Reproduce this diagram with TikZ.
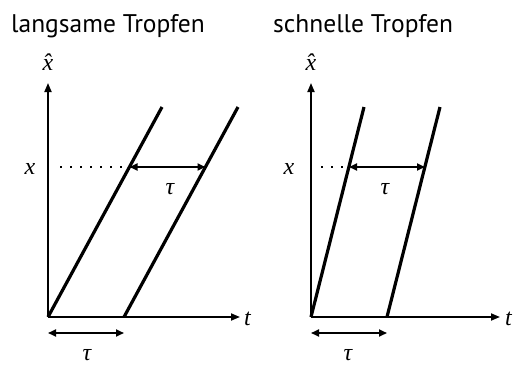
\documentclass[tikz,border=0pt]{standalone}
\usepackage{fontspec}
\setmainfont{PT Sans}
\usetikzlibrary{arrows.meta}
\newfontfamily\mathlike{Liberation Serif}
\tikzset{
  axis/.style={line width=1.8pt,-{Triangle[length=9pt,width=7pt]}},
  drop/.style={line width=3.2pt},
  dim/.style={line width=1.8pt,{Triangle[length=8pt,width=7pt]}-{Triangle[length=8pt,width=7pt]}},
  guide/.style={line width=1.6pt,dash pattern=on 1.6pt off 8.4pt},
  title/.style={font=\fontsize{25.5}{28}\selectfont,anchor=base west,inner sep=0pt},
  lab/.style={font=\mathlike\itshape\fontsize{24}{26}\selectfont,inner sep=0pt}
}
\begin{document}
\begin{tikzpicture}[x=1pt,y=-1pt]
\useasboundingbox (0,0) rectangle (515,365);
% ---------- left panel ----------
\node[title] (T1) at (11,32) {langsame Tropfen};
\coordinate (O1) at (48,317);
\coordinate (Y1) at (48,83);
\coordinate (X1) at (240,317);
\draw[axis] (O1) -- (Y1);
\draw[axis] (O1) -- (X1);
\node[lab,anchor=base] (xh1) at (48,70) {\^x};
\node[lab,anchor=base west] (t1) at (244,325) {t};
\coordinate (A1t) at (162,107);
\coordinate (B1b) at (124,317);
\coordinate (B1t) at (238,107);
\draw[drop] (O1) -- (A1t);
\draw[drop] (B1b) -- (B1t);
\node[lab,anchor=base] (x1) at (30,174) {x};
\coordinate (g1) at (60,167);
\coordinate (P1) at (129.5,167);
\coordinate (Q1) at (205.5,167);
\draw[guide] (g1) -- (P1);
\draw[dim] (P1) -- (Q1);
\node[lab,anchor=base] (tau1) at (170,194) {τ};
\coordinate (D1a) at (48,333);
\coordinate (D1b) at (124,333);
\draw[dim] (D1a) -- (D1b);
\node[lab,anchor=base] (tau2) at (87,360) {τ};
% ---------- right panel ----------
\node[title] (T2) at (273,32) {schnelle Tropfen};
\coordinate (O2) at (311,317);
\coordinate (Y2) at (311,83);
\coordinate (X2) at (500,317);
\draw[axis] (O2) -- (Y2);
\draw[axis] (O2) -- (X2);
\node[lab,anchor=base] (xh2) at (311,70) {\^x};
\node[lab,anchor=base west] (t2) at (505,325) {t};
\coordinate (A2t) at (364,107);
\coordinate (B2b) at (387,317);
\coordinate (B2t) at (440,107);
\draw[drop] (O2) -- (A2t);
\draw[drop] (B2b) -- (B2t);
\node[lab,anchor=base] (x2) at (289,174) {x};
\coordinate (g2) at (321,167);
\coordinate (P2) at (349,167);
\coordinate (Q2) at (425,167);
\draw[guide] (g2) -- (P2);
\draw[dim] (P2) -- (Q2);
\node[lab,anchor=base] (tau3) at (385,194) {τ};
\coordinate (D2a) at (311,333);
\coordinate (D2b) at (387,333);
\draw[dim] (D2a) -- (D2b);
\node[lab,anchor=base] (tau4) at (348,360) {τ};
\end{tikzpicture}
\end{document}
